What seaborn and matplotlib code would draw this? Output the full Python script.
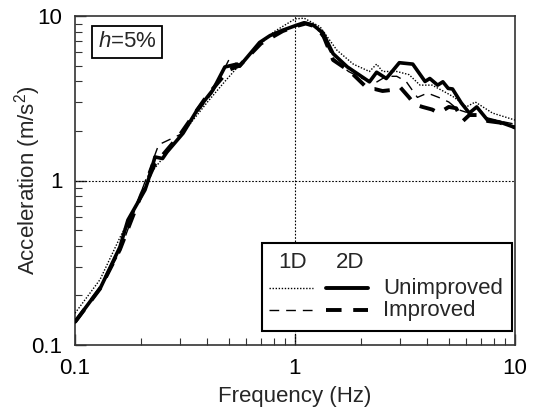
import numpy as np
import pandas as pd
import seaborn as sns
import matplotlib
matplotlib.use("Agg")
import matplotlib.pyplot as plt
from matplotlib.patches import Rectangle
from matplotlib.ticker import LogLocator, FixedLocator, FixedFormatter, NullFormatter

# ---- data ----
f_2d_unimp = [0.1, 0.131, 0.160, 0.174, 0.208, 0.215, 0.231, 0.25, 0.262, 0.31, 0.359, 0.424,
              0.48, 0.545, 0.56, 0.69, 0.77, 0.88, 1.02, 1.1, 1.21, 1.34, 1.49, 1.73, 2.18,
              2.35, 2.6, 2.98, 3.43, 3.9, 4.1, 4.45, 4.7, 4.97, 5.2, 5.7, 6.2, 6.7, 7.5, 8.5, 10]
a_2d_unimp = [0.138, 0.225, 0.394, 0.575, 0.876, 1.0, 1.39, 1.36, 1.49, 1.94, 2.68, 3.56,
              4.9, 5.1, 4.95, 6.9, 7.6, 8.2, 8.8, 9.1, 8.8, 7.9, 5.9, 4.9, 3.98,
              4.55, 4.17, 5.2, 5.1, 4.0, 4.17, 3.8, 3.98, 3.63, 3.6, 2.96, 2.57, 2.8, 2.33, 2.27, 2.1]

f_1d_unimp = [0.1, 0.13, 0.16, 0.2, 0.22, 0.3, 0.4, 0.48, 0.6, 0.8, 1.0, 1.1, 1.3, 1.55, 1.84,
              2.18, 2.35, 2.5, 2.9, 3.3, 3.7, 4.2, 4.9, 5.3, 6.0, 6.6, 7.9, 10]
a_1d_unimp = [0.156, 0.25, 0.45, 0.8, 1.1, 1.85, 3.0, 4.0, 5.6, 8.0, 9.6, 9.7, 8.6, 6.2, 5.1,
              4.6, 5.1, 4.6, 4.6, 4.4, 3.8, 3.8, 3.4, 3.2, 2.8, 3.0, 2.57, 2.33]

f_1d_imp = [0.1, 0.13, 0.16, 0.2, 0.24, 0.3, 0.36, 0.42, 0.5, 0.56, 0.7, 0.88, 1.02, 1.15, 1.3,
            1.5, 1.75, 2.0, 2.3, 2.6, 2.9, 3.2, 3.6, 4.0, 4.5, 5.0, 5.5, 6.0, 6.7, 7.5, 8.5, 10]
a_1d_imp = [0.14, 0.22, 0.37, 0.85, 1.65, 1.9, 2.6, 3.4, 5.4, 5.0, 7.0, 8.2, 8.8, 9.0, 8.0,
            5.5, 4.6, 4.2, 3.9, 4.3, 4.3, 4.0, 3.2, 3.4, 3.2, 3.0, 2.7, 2.6, 2.8, 2.4, 2.3, 2.2]

f_2d_imp = [0.1, 0.13, 0.16, 0.2, 0.23, 0.3, 0.4, 0.5, 0.56, 0.7, 0.88, 1.02, 1.12, 1.25, 1.35,
            1.49, 1.78, 2.15, 2.3, 2.5, 2.8, 3.0, 3.3, 3.5, 3.8, 4.2, 4.5, 5.0, 5.4, 5.8, 6.2,
            6.7, 7.5, 8.5, 10]
a_2d_imp = [0.138, 0.22, 0.38, 0.82, 1.25, 1.9, 3.3, 4.7, 5.0, 6.8, 8.1, 8.7, 9.0, 8.6, 7.5,
            5.4, 4.6, 3.6, 3.6, 3.5, 3.56, 3.7, 3.2, 2.9, 2.8, 2.7, 2.57, 2.8, 2.75, 2.3, 2.5,
            2.5, 2.3, 2.25, 2.1]

tick_vals = [0.1, 1, 10]
tick_labels = ["0.1", "1", "10"]

# ---- style ----
sns.set_style("ticks")
plt.rcParams["font.family"] = ["Liberation Sans", "DejaVu Sans"]
plt.rcParams["mathtext.fontset"] = "custom"
plt.rcParams["mathtext.rm"] = "Liberation Sans"
plt.rcParams["mathtext.it"] = "Liberation Sans:italic"

FS = 16
fig = plt.figure(figsize=(5.34, 4.08), dpi=100)
ax = fig.add_axes([75 / 534, 1 - 345 / 408, 440 / 534, 329 / 408])

# reference lines
ax.axvline(1, color="black", lw=0.8, ls=(0, (1.5, 1.5)), zorder=1)
ax.axhline(1, color="black", lw=0.8, ls=(0, (1.5, 1.5)), zorder=1)

sns.lineplot(x=f_1d_unimp, y=a_1d_unimp, ax=ax, color="black", lw=1.0,
             linestyle=(0, (1, 1.2)), sort=False, zorder=3)
sns.lineplot(x=f_1d_imp, y=a_1d_imp, ax=ax, color="black", lw=1.0,
             linestyle=(0, (7, 5)), sort=False, zorder=3)
sns.lineplot(x=f_2d_imp, y=a_2d_imp, ax=ax, color="black", lw=2.8,
             linestyle=(0, (4, 3)), sort=False, zorder=4)
sns.lineplot(x=f_2d_unimp, y=a_2d_unimp, ax=ax, color="black", lw=2.6,
             linestyle="-", sort=False, zorder=5)

ax.set_xscale("log")
ax.set_yscale("log")
ax.set_xlim(0.1, 10)
ax.set_ylim(0.1, 10)

for axis in (ax.xaxis, ax.yaxis):
    axis.set_major_locator(FixedLocator(tick_vals))
    axis.set_major_formatter(FixedFormatter(tick_labels))
    axis.set_minor_locator(LogLocator(base=10, subs=np.arange(2, 10)))
    axis.set_minor_formatter(NullFormatter())

ax.tick_params(which="both", direction="in", labelsize=FS, colors="#333333",
               labelcolor="black")
ax.tick_params(which="major", length=8, width=1)
ax.tick_params(axis="x", which="major", pad=9)
ax.tick_params(axis="y", which="major", pad=9)
ax.tick_params(which="minor", length=5, width=0.8)
for s in ax.spines.values():
    s.set_linewidth(1.2)
    s.set_color("#333333")

ax.set_xlabel("Frequency (Hz)", fontsize=FS)
ax.set_ylabel("Acceleration (m/s$^2$)", fontsize=FS)
ax.xaxis.set_label_coords(0.5, -0.125)
ax.yaxis.set_label_coords(-0.072, 0.5)

# h=5% label
ax.text(0.118, 0.921, "$h$=5%", transform=ax.transAxes, fontsize=FS,
        ha="center", va="center",
        bbox=dict(boxstyle="square,pad=0.25", fc="white", ec="black", lw=1.3))

# custom legend table
ax.add_patch(Rectangle((0.425, 0.043), 0.568, 0.267, transform=ax.transAxes,
                       fc="white", ec="black", lw=1.5, zorder=6))
ax.text(0.495, 0.252, "1D", transform=ax.transAxes, fontsize=FS, ha="center",
        va="center", zorder=7)
ax.text(0.625, 0.252, "2D", transform=ax.transAxes, fontsize=FS, ha="center",
        va="center", zorder=7)
ax.plot([0.441, 0.541], [0.173, 0.173], transform=ax.transAxes, color="black",
        lw=1.0, ls=(0, (1, 1.2)), zorder=7)
ax.plot([0.571, 0.666], [0.173, 0.173], transform=ax.transAxes, color="black",
        lw=2.8, ls="-", zorder=7)
ax.plot([0.441, 0.541], [0.106, 0.106], transform=ax.transAxes, color="black",
        lw=1.0, ls=(0, (7, 5)), zorder=7)
ax.plot([0.571, 0.666], [0.106, 0.106], transform=ax.transAxes, color="black",
        lw=2.8, ls=(0, (4, 3)), zorder=7)
ax.text(0.70, 0.173, "Unimproved", transform=ax.transAxes, fontsize=FS,
        ha="left", va="center", zorder=7)
ax.text(0.70, 0.106, "Improved", transform=ax.transAxes, fontsize=FS,
        ha="left", va="center", zorder=7)

fig.savefig("out.png", dpi=100)
